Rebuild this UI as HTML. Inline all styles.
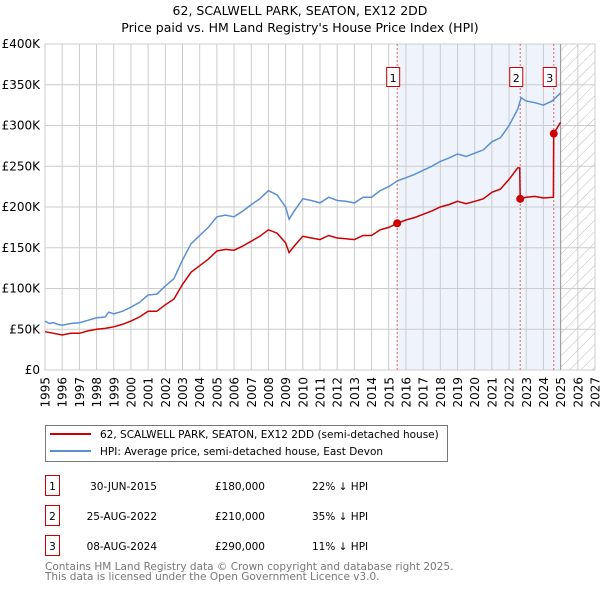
<!DOCTYPE html>
<html><head><meta charset="utf-8">
<style>
body{margin:0;background:#fff;width:600px;height:590px;overflow:hidden;font-family:"DejaVu Sans","Liberation Sans",sans-serif;}
svg text{font-family:"DejaVu Sans","Liberation Sans",sans-serif;}
</style></head>
<body>
<svg id="chart" width="600" height="590" viewBox="0 0 600 590" xmlns="http://www.w3.org/2000/svg">
<text x="300" y="15" font-size="12.5" text-anchor="middle" fill="#000">62, SCALWELL PARK, SEATON, EX12 2DD</text>
<text x="300" y="32" font-size="12.5" text-anchor="middle" fill="#000">Price paid vs. HM Land Registry's House Price Index (HPI)</text>
<defs>
<pattern id="hatch" patternUnits="userSpaceOnUse" width="8" height="8" patternTransform="rotate(45)">
<line x1="0" y1="0" x2="0" y2="8" stroke="#bbb" stroke-width="1"/>
</pattern>
</defs>
<g id="plot"></g>
<g>
<rect x="45.5" y="425.5" width="402" height="36" fill="#fff" stroke="#777"/>
<line x1="50" y1="434" x2="91" y2="434" stroke="#cc0000" stroke-width="2"/>
<text x="100" y="438" font-size="10.5">62, SCALWELL PARK, SEATON, EX12 2DD (semi-detached house)</text>
<line x1="50" y1="451" x2="91" y2="451" stroke="#5b8fd4" stroke-width="2"/>
<text x="100" y="455" font-size="10.5">HPI: Average price, semi-detached house, East Devon</text>
</g>
<g font-size="10.5">
<g><rect x="45.5" y="475.5" width="14" height="20" fill="#fff" stroke="#cc0000"/><text x="52.5" y="490" text-anchor="middle">1</text><text x="157" y="490" text-anchor="end">30-JUN-2015</text><text x="265" y="490" text-anchor="end">£180,000</text><text x="312" y="490">22% ↓ HPI</text></g>
<g><rect x="45.5" y="505.5" width="14" height="20" fill="#fff" stroke="#cc0000"/><text x="52.5" y="520" text-anchor="middle">2</text><text x="157" y="520" text-anchor="end">25-AUG-2022</text><text x="265" y="520" text-anchor="end">£210,000</text><text x="312" y="520">35% ↓ HPI</text></g>
<g><rect x="45.5" y="535.5" width="14" height="20" fill="#fff" stroke="#cc0000"/><text x="52.5" y="550" text-anchor="middle">3</text><text x="157" y="550" text-anchor="end">08-AUG-2024</text><text x="265" y="550" text-anchor="end">£290,000</text><text x="312" y="550">11% ↓ HPI</text></g>
</g>
<text x="45" y="570" font-size="10.5" fill="#777">Contains HM Land Registry data © Crown copyright and database right 2025.</text>
<text x="45" y="580" font-size="10.5" fill="#777">This data is licensed under the Open Government Licence v3.0.</text>
</svg>
<script>
const yTicks=[0,50,100,150,200,250,300,350,400];
const yTickLabels=["£0","£50K","£100K","£150K","£200K","£250K","£300K","£350K","£400K"];
const xYears=[1995,1996,1997,1998,1999,2000,2001,2002,2003,2004,2005,2006,2007,2008,2009,2010,2011,2012,2013,2014,2015,2016,2017,2018,2019,2020,2021,2022,2023,2024,2025,2026,2027];
const hpiDates=[1995,1995.25,1995.5,1995.75,1996,1996.5,1997,1997.5,1998,1998.5,1998.7,1999,1999.5,2000,2000.5,2001,2001.5,2002,2002.5,2003,2003.5,2004,2004.5,2005,2005.5,2006,2006.5,2007,2007.5,2008,2008.5,2009,2009.2,2009.5,2010,2010.5,2011,2011.5,2012,2012.5,2013,2013.5,2014,2014.5,2015,2015.5,2016,2016.5,2017,2017.5,2018,2018.5,2019,2019.5,2020,2020.5,2021,2021.5,2022,2022.5,2022.7,2023,2023.5,2024,2024.5,2025];
const hpiValues=[60,57,58,56,55,57,58,61,64,65,71,69,72,77,83,92,93,103,112,135,155,165,175,188,190,188,195,203,210,220,215,200,185,195,210,208,205,212,208,207,205,212,212,220,225,232,236,240,245,250,256,260,265,262,266,270,280,285,300,320,334,330,328,325,330,340];
const priceDates=[1995,1995.5,1996,1996.5,1997,1997.5,1998,1998.5,1999,1999.5,2000,2000.5,2001,2001.5,2002,2002.5,2003,2003.5,2004,2004.5,2005,2005.5,2006,2006.5,2007,2007.5,2008,2008.5,2009,2009.2,2009.5,2010,2010.5,2011,2011.5,2012,2012.5,2013,2013.5,2014,2014.5,2015,2015.5,2016,2016.5,2017,2017.5,2018,2018.5,2019,2019.5,2020,2020.5,2021,2021.5,2022,2022.5,2022.62,2022.65,2023,2023.5,2024,2024.58,2024.6,2025];
const priceValues=[47,45,43,45,45,48,50,51,53,56,60,65,72,72,80,87,105,120,128,136,146,148,147,152,158,164,172,168,156,144,152,164,162,160,165,162,161,160,165,165,172,175,180,184,187,191,195,200,203,207,204,207,210,218,222,234,248,248,210,212,213,211,212,290,304];
const saleDates=[2015.49,2022.65,2024.6];
const saleValues=[180,210,290];
const saleLabels=["1","2","3"];

const X0=45,X1=595,Y0=370,Y1=44;
const xs=d=>X0+(d-1995)/(2027-1995)*(X1-X0);
const ys=v=>Y0-v/400*(Y0-Y1);
const NS="http://www.w3.org/2000/svg";
const g=document.getElementById('plot');
function el(t,a,p){const e=document.createElementNS(NS,t);for(const k in a)e.setAttribute(k,a[k]);(p||g).appendChild(e);return e;}

const shade=el('rect',{x:xs(2015.49),y:Y1,width:xs(2025.0)-xs(2015.49),height:Y0-Y1,fill:'#eef3fc'});


const hat=el('rect',{x:xs(2025.0),y:Y1,width:X1-xs(2025.0),height:Y0-Y1,fill:'url(#hatch)'});



yTicks.forEach((v,i)=>{
  const l=el('line',{x1:X0,x2:X1,y1:ys(v),y2:ys(v),stroke:'#ccc','stroke-width':1});
  
  
  const t=el('text',{x:40,y:ys(v)+4,'font-size':12,'text-anchor':'end',fill:'#000'});
  t.textContent=yTickLabels[i];
  
  
});
xYears.forEach(yr=>{
  const l=el('line',{x1:xs(yr),x2:xs(yr),y1:Y1,y2:Y0,stroke:'#ccc','stroke-width':1});
  
  
  const t=el('text',{x:0,y:0,'font-size':12,'text-anchor':'end',fill:'#000',transform:`translate(${xs(yr)+4.5},377) rotate(-90)`});
  t.textContent=yr;
  
  
});
const border=el('rect',{x:X0,y:Y1,width:X1-X0,height:Y0-Y1,fill:'none',stroke:'#ccc'});


const nowLine=el('line',{x1:xs(2025),x2:xs(2025),y1:Y1,y2:Y0,stroke:'#999','stroke-width':1});



saleDates.forEach((d,i)=>{
  const l=el('line',{x1:xs(d),x2:xs(d),y1:Y1,y2:Y0,stroke:'#e06666','stroke-width':1,'stroke-dasharray':'2,2'});
  
  
});

const hp=el('path',{d:hpiDates.map((d,i)=>(i?'L':'M')+xs(d).toFixed(1)+','+ys(hpiValues[i]).toFixed(1)).join(''),fill:'none',stroke:'#5b8fd4','stroke-width':1.5});


const pp=el('path',{d:priceDates.map((d,i)=>(i?'L':'M')+xs(d).toFixed(1)+','+ys(priceValues[i]).toFixed(1)).join(''),fill:'none',stroke:'#cc0000','stroke-width':1.5});



saleDates.forEach((d,i)=>{
  const c=el('circle',{cx:xs(d),cy:ys(saleValues[i]),r:4,fill:'#cc0000'});
  
  
  const bx=xs(d)-10;
  const r=el('rect',{x:bx-0.5,y:67.5,width:13,height:19,fill:'#fff',stroke:'#cc0000'});
  
  
  const t=el('text',{x:bx+6,y:82,'font-size':11,'text-anchor':'middle',fill:'#000'});
  t.textContent=saleLabels[i];
  
  
});
</script>
</body></html>
